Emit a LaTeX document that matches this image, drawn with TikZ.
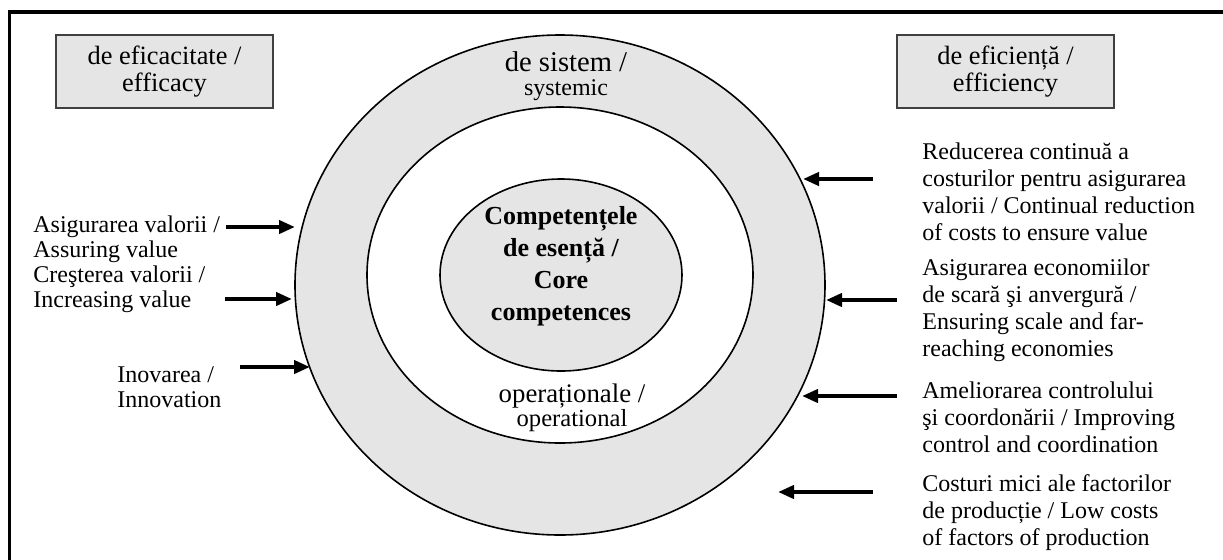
\documentclass[tikz,border=0pt]{standalone}
\usepackage{fontspec}
\setmainfont{Liberation Serif}
\usetikzlibrary{arrows.meta, shapes.geometric}

\begin{document}
\begin{tikzpicture}[
    x=0.5pt, y=-0.5pt,
    tag/.style={draw=black!75, fill=black!10, line width=0.6pt, minimum width=108.5pt,
                minimum height=36.5pt, inner sep=0pt, align=center,
                font=\fontsize{13.2}{13.5}\selectfont},
    ring/.style={ellipse, draw, line width=0.8pt, inner sep=0pt, fill=#1},
    txt/.style={anchor=west, align=left, inner sep=0pt, font=\fontsize{12}{13.5}\selectfont},
    ltxt/.style={txt, font=\fontsize{12}{12.5}\selectfont},
    arr/.style={-{Triangle[length=8pt, width=6.5pt]}, line width=2pt},
  ]

  \useasboundingbox (0,0) rectangle (1223,559);
  \clip (0,0) rectangle (1223,559);

  % frame, runs off the page on the right and at the bottom
  \draw[line width=1.8pt] (9.5,12) rectangle (1300,620);

  % the three rings
  \node[ring=black!10, minimum width=265pt, minimum height=250pt] (outer) at (560,285) {};
  \node[ring=white, minimum width=193pt, minimum height=168pt] (middle) at (560,275) {};
  \node[ring=black!10, minimum width=121pt, minimum height=96pt] (inner) at (561,275) {};

  \node[align=center, inner sep=0pt] (systemic) at (566,76)
    {{\fontsize{14.3}{13}\selectfont de sistem /}\\{\fontsize{12}{13}\selectfont systemic}};
  \node[align=center, inner sep=0pt] (operational) at (572,408)
    {{\fontsize{13.4}{13}\selectfont operaționale /}\\{\fontsize{12.3}{13}\selectfont operational}};
  \node[align=center, inner sep=0pt, font=\bfseries\fontsize{13}{16}\selectfont] (core) at (561,266)
    {Competențele\\de esență /\\Core\\competences};

  % headings
  \node[tag] (efficacy) at (164.5,71.5) {de eficacitate /\\efficacy};
  \node[tag] (efficiency) at (1005.5,71.5) {de eficiență /\\efficiency};

  % efficacy side
  \node[ltxt] (assure) at (33,239) {Asigurarea valorii /\\Assuring value};
  \node[ltxt] (increase) at (33,289) {Creşterea valorii /\\Increasing value};
  \node[ltxt] (innovate) at (117,387) {Inovarea /\\Innovation};

  \coordinate (assure-from) at (226,227);
  \coordinate (assure-to) at (295,227);
  \coordinate (increase-from) at (225,299);
  \coordinate (increase-to) at (292,299);
  \coordinate (innovate-from) at (240,367);
  \coordinate (innovate-to) at (310,367);
  \draw[arr] (assure-from) -- (assure-to);
  \draw[arr] (increase-from) -- (increase-to);
  \draw[arr] (innovate-from) -- (innovate-to);

  % efficiency side
  \node[txt] (reduce) at (922,192)
    {Reducerea continuă a\\costurilor pentru asigurarea\\valorii / Continual reduction\\of costs to ensure value};
  \node[txt] (scale) at (922,310)
    {Asigurarea economiilor\\de scară şi anvergură /\\Ensuring scale and far-\\reaching economies};
  \node[txt] (control) at (922,417)
    {Ameliorarea controlului\\şi coordonării / Improving\\control and coordination};
  \node[txt] (factors) at (922,513)
    {Costuri mici ale factorilor\\de producție / Low costs\\of factors of production};

  \coordinate (reduce-from) at (873,179);
  \coordinate (reduce-to) at (803,179);
  \coordinate (scale-from) at (897,300);
  \coordinate (scale-to) at (826,300);
  \coordinate (control-from) at (897,396);
  \coordinate (control-to) at (802,396);
  \coordinate (factors-from) at (873,492);
  \coordinate (factors-to) at (778,492);
  \draw[arr] (reduce-from) -- (reduce-to);
  \draw[arr] (scale-from) -- (scale-to);
  \draw[arr] (control-from) -- (control-to);
  \draw[arr] (factors-from) -- (factors-to);

\end{tikzpicture}
\end{document}
